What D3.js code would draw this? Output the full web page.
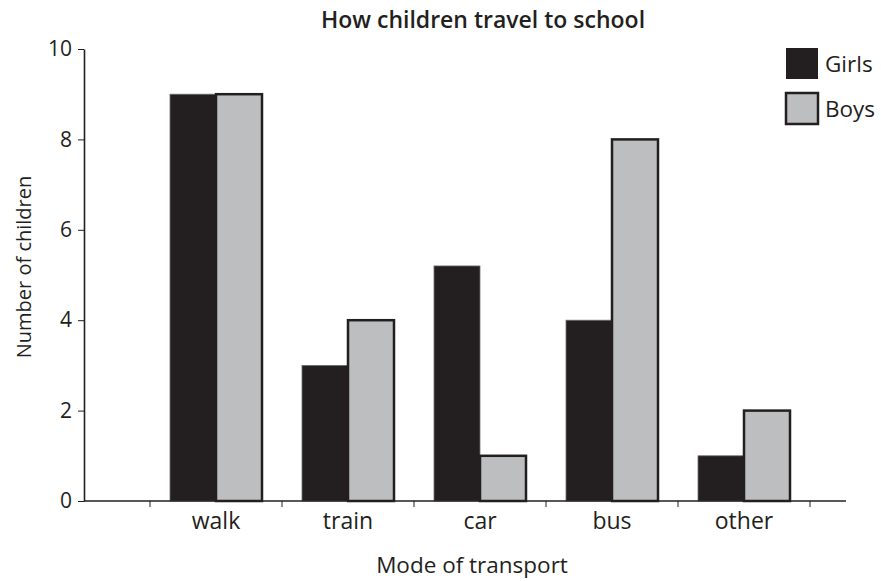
<!DOCTYPE html>
<html>
<head>
<meta charset="utf-8">
<script src="https://cdn.jsdelivr.net/npm/d3@7"></script>
<style>
  body { margin: 0; background: #fff; }
  svg text { font-family: "Open Sans", "DejaVu Sans", sans-serif; fill: #231f20; }
</style>
</head>
<body>
<div id="chart"></div>
<script>
// data
const modes = ["walk", "train", "car", "bus", "other"];
const girls = [9, 3, 5.2, 4, 1];
const boys = [9, 4, 1, 8, 2];
const series = ["Girls", "Boys"];
const yTicks = [0, 2, 4, 6, 8, 10];

(function(){
	const W = 881, H = 581;
	const ink = "#231f20";
	const colours = { Girls: "#231f20", Boys: "#bcbec0" };

	const svg = d3.select("#chart").append("svg").attr("width", W).attr("height", H);

	// scales
	const x = d3.scaleBand().domain(modes).range([150, 810]).padding(0);
	const xSub = d3.scaleBand().domain(series).range([20, x.bandwidth() - 20]).padding(0);
	const y = d3.scaleLinear().domain([0, 10]).range([501, 49]);

	const rows = modes.map((m, i) => ({ mode: m, Girls: girls[i], Boys: boys[i] }));

	// bars
	const grp = svg.append("g").selectAll("g").data(rows).join("g")
		.attr("transform", d => `translate(${x(d.mode)},0)`);

	grp.append("rect")
		.attr("x", xSub("Girls"))
		.attr("y", d => y(d.Girls))
		.attr("width", xSub.bandwidth())
		.attr("height", d => y(0) - y(d.Girls))
		.attr("fill", colours.Girls)
		.attr("stroke", "#6d6e71").attr("stroke-width", 0.8);

	grp.append("rect")
		.attr("x", xSub("Boys"))
		.attr("y", d => y(d.Boys))
		.attr("width", xSub.bandwidth())
		.attr("height", d => y(0) - y(d.Boys))
		.attr("fill", colours.Boys)
		.attr("stroke", ink).attr("stroke-width", 2.5);

	// y axis
	const yAxis = svg.append("g").attr("transform", "translate(84,0)")
		.call(d3.axisLeft(y).tickValues(yTicks).tickSize(6).tickPadding(6).tickSizeOuter(0));
	yAxis.select(".domain").attr("stroke", ink).attr("stroke-width", 1.6);
	yAxis.selectAll(".tick line").attr("stroke", ink).attr("stroke-width", 1);
	yAxis.selectAll(".tick text").attr("font-size", 21).attr("font-family", null).attr("fill", ink);

	// x axis: baseline plus ticks at band edges
	svg.append("line").attr("x1", 84).attr("x2", 846).attr("y1", y(0)).attr("y2", y(0))
		.attr("stroke", ink).attr("stroke-width", 1.6);
	const edges = modes.map(m => x(m)).concat([x(modes[modes.length - 1]) + x.bandwidth()]);
	svg.append("g").selectAll("line").data(edges).join("line")
		.attr("x1", d => d).attr("x2", d => d)
		.attr("y1", y(0)).attr("y2", y(0) + 6)
		.attr("stroke", ink).attr("stroke-width", 1);
	svg.append("g").selectAll("text").data(modes).join("text")
		.attr("x", d => x(d) + x.bandwidth() / 2)
		.attr("y", 529)
		.attr("text-anchor", "middle")
		.attr("font-size", 23)
		.text(d => d);

	// titles
	svg.append("text").attr("x", 483).attr("y", 28).attr("text-anchor", "middle")
		.attr("font-size", 23).attr("font-weight", 600).text("How children travel to school");
	svg.append("text").attr("x", 472).attr("y", 573).attr("text-anchor", "middle")
		.attr("font-size", 22.5).text("Mode of transport");
	svg.append("text").attr("transform", "translate(31,267) rotate(-90)")
		.attr("text-anchor", "middle").attr("font-size", 20).text("Number of children");

	// legend
	const leg = svg.append("g").selectAll("g").data(series).join("g")
		.attr("transform", (d, i) => `translate(786,${48 + i * 45})`);
	leg.append("rect").attr("width", 32).attr("height", 31)
		.attr("fill", d => colours[d])
		.attr("stroke", ink).attr("stroke-width", d => d === "Boys" ? 2.5 : 0);
	leg.append("text").attr("x", 39).attr("y", 24).attr("font-size", 22.5).text(d => d);
})();
</script>
</body>
</html>
